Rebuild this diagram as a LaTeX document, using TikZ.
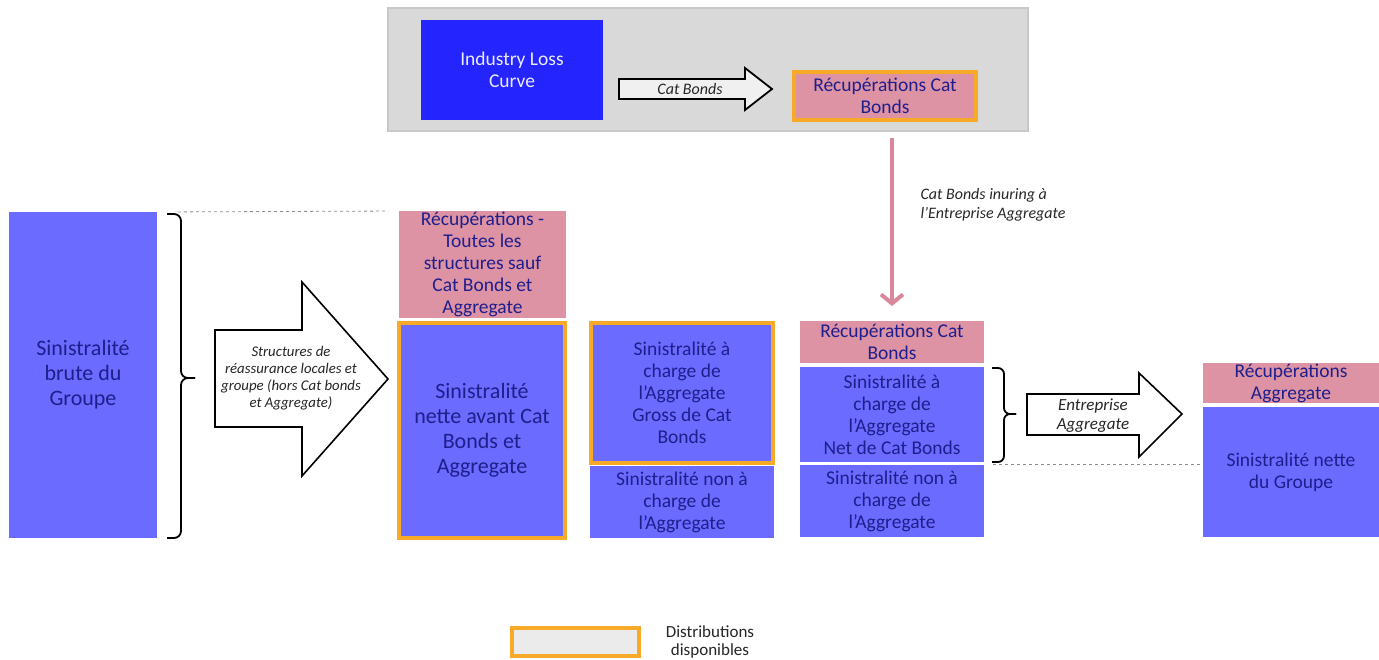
\documentclass[tikz,border=0pt]{standalone}
\usepackage{fontspec}
\setmainfont{Carlito}
\usetikzlibrary{arrows.meta}
\definecolor{lossblue}{RGB}{107,107,255}
\definecolor{deepblue}{RGB}{36,36,255}
\definecolor{recpink}{RGB}{222,147,165}
\definecolor{distorange}{RGB}{247,169,40}
\definecolor{navytext}{RGB}{30,30,140}
\definecolor{panelgray}{RGB}{217,217,217}
\definecolor{panelline}{RGB}{200,200,200}
\definecolor{legendfill}{RGB}{235,235,235}
\definecolor{inurepink}{RGB}{217,136,155}
\begin{document}
\begin{tikzpicture}[x=1pt,y=-1pt,
  block/.style={inner sep=0pt, outer sep=0pt, align=center, text=navytext,
    font=\fontsize{19.5}{22}\selectfont},
  bigtext/.style={font=\fontsize{22}{25}\selectfont},
  lossbox/.style={block, fill=lossblue},
  recbox/.style={block, fill=recpink},
  distbox/.style={draw=distorange, line width=4pt},
  flowarrow/.style={draw=black, line width=1.6pt, fill=white, line join=miter},
  flowlabel/.style={align=center, text=black!85, font=\itshape\fontsize{14.8}{17}\selectfont},
  bracket/.style={line width=1.8pt, draw=black, rounded corners=7pt},
  guide/.style={draw=black!45, dashed, line width=0.8pt},
  inuring/.style={draw=inurepink, line width=4pt, -{Straight Barb[length=9pt,width=22pt]}}]
\useasboundingbox (0,0) rectangle (1379,659);

% ---- Industry loss panel ----
\node[draw=panelline, fill=panelgray, line width=1.5pt, minimum width=640, minimum height=123] (panel) at (708,69.5) {};
\node[block, fill=deepblue, text=white!92!blue, minimum width=182, minimum height=100] (ilc) at (512,70) {Industry Loss\\Curve};
\node[recbox, distbox, minimum width=182, minimum height=48] (rcbtop) at (885,96) {Récupérations Cat\\Bonds};
\filldraw[flowarrow, fill=black!6, line width=1.8pt] (619,79) -- (745,79) -- (745,68) -- (772,89) -- (745,110) -- (745,99) -- (619,99) -- cycle;
\node[flowlabel, font=\itshape\fontsize{16}{19}\selectfont] (cblabel) at (690,89) {Cat Bonds};

% ---- Gross loss ----
\node[lossbox, bigtext, minimum width=148, minimum height=326] (gross) at (83,375) {Sinistralité\\brute du\\Groupe};
\draw[bracket] (167,214) -- (181,214) -- (181,378) -- (195,378);
\draw[bracket] (195,378) -- (181,378) -- (181,538) -- (167,538);

% ---- Local and group structures ----
\filldraw[flowarrow] (215,330) -- (302,330) -- (302,282) -- (388,379) -- (302,476) -- (302,427) -- (215,427) -- cycle;
\node[flowlabel] (structlabel) at (291,378) {Structures de\\réassurance locales et\\groupe (hors Cat bonds\\et Aggregate)};

% ---- Net before Cat Bonds and Aggregate ----
\node[recbox, minimum width=167, minimum height=107] (rall) at (482.5,264.5) {Récupérations -\\Toutes les\\structures sauf\\Cat Bonds et\\Aggregate};
\node[lossbox, bigtext, distbox, minimum width=166, minimum height=215] (netbefore) at (482,430.5) {Sinistralité\\nette avant Cat\\Bonds et\\Aggregate};
\draw[guide, shorten <=21pt, shorten >=11pt] (gross.north east) -- (rall.north west);

% ---- Split gross of Cat Bonds ----
\node[lossbox, distbox, minimum width=182, minimum height=140] (aggross) at (682,393) {Sinistralité à\\charge de\\l’Aggregate\\Gross de Cat\\Bonds};
\node[lossbox, minimum width=184, minimum height=72] (nonagg1) at (682,502) {Sinistralité non à\\charge de\\l’Aggregate};

% ---- Split net of Cat Bonds ----
\node[recbox, minimum width=184, minimum height=42] (rcb) at (892,342) {Récupérations Cat\\Bonds};
\node[lossbox, minimum width=184, minimum height=95] (agnet) at (892,414.5) {Sinistralité à\\charge de\\l’Aggregate\\Net de Cat Bonds};
\node[lossbox, minimum width=184, minimum height=72] (nonagg2) at (892,501) {Sinistralité non à\\charge de\\l’Aggregate};

\draw[inuring, shorten <=6pt, shorten >=15pt] (panel.south -| rcb.north) -- (rcb.north);
\node[flowlabel, align=left, anchor=west, font=\itshape\fontsize{16}{19}\selectfont] (inurelabel) at (917,204.5) {Cat Bonds inuring à\\l’Entreprise Aggregate};

\draw[bracket, rounded corners=6pt] (992,368) -- (1004,368) -- (1004,414) -- (1016,414);
\draw[bracket, rounded corners=6pt] (1016,414) -- (1004,414) -- (1004,462) -- (992,462);

% ---- Entreprise Aggregate ----
\filldraw[flowarrow] (1027,394) -- (1139,394) -- (1139,373) -- (1182,414) -- (1139,457) -- (1139,435) -- (1027,435) -- cycle;
\node[flowlabel, font=\itshape\fontsize{17}{19}\selectfont] (entlabel) at (1093,415.5) {Entreprise\\Aggregate};

% ---- Net loss of the group ----
\node[recbox, minimum width=176, minimum height=40] (ragg) at (1291,383) {Récupérations\\Aggregate};
\node[lossbox, minimum width=176, minimum height=130] (netgroup) at (1291,472) {Sinistralité nette\\du Groupe};
\coordinate (g2start) at (993,464);
\draw[guide] (g2start) -- (netgroup.west |- g2start);

% ---- Legend ----
\node[distbox, fill=legendfill, minimum width=127, minimum height=28, inner sep=0pt] (legbox) at (575.5,642) {};
\node[align=center, text=black!85, font=\fontsize{17}{18}\selectfont] (legtext) at (710,642) {Distributions\\disponibles};
\end{tikzpicture}
\end{document}
